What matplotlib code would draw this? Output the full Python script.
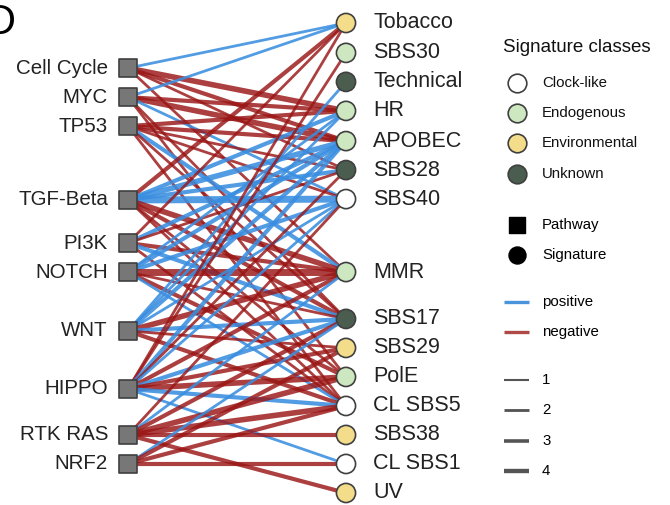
import matplotlib
matplotlib.use("Agg")
import matplotlib.pyplot as plt

plt.rcParams["font.family"] = ["Liberation Sans", "DejaVu Sans"]

# ---- data -------------------------------------------------------------
pathways = ["Cell Cycle", "MYC", "TP53", "TGF-Beta", "PI3K", "NOTCH",
            "WNT", "HIPPO", "RTK RAS", "NRF2"]
signatures = ["Tobacco", "SBS30", "Technical", "HR", "APOBEC", "SBS28",
              "SBS40", "MMR", "SBS17", "SBS29", "PolE", "CL SBS5",
              "SBS38", "CL SBS1", "UV"]
signature_classes = ["Environmental", "Endogenous", "Unknown", "Endogenous",
                     "Endogenous", "Unknown", "Clock-like", "Endogenous",
                     "Unknown", "Environmental", "Endogenous", "Clock-like",
                     "Environmental", "Clock-like", "Environmental"]

# interactions: pathway, signature, signed strength (+ positive / - negative)
edge_pathway = [
    "Cell Cycle", "Cell Cycle", "Cell Cycle", "Cell Cycle", "Cell Cycle",
    "MYC", "MYC", "MYC", "MYC", "MYC", "MYC",
    "TP53", "TP53", "TP53", "TP53", "TP53", "TP53", "TP53",
    "TGF-Beta", "TGF-Beta", "TGF-Beta", "TGF-Beta", "TGF-Beta", "TGF-Beta",
    "TGF-Beta", "TGF-Beta", "TGF-Beta",
    "PI3K", "PI3K", "PI3K", "PI3K", "PI3K", "PI3K",
    "NOTCH", "NOTCH", "NOTCH", "NOTCH", "NOTCH", "NOTCH", "NOTCH",
    "WNT", "WNT", "WNT", "WNT", "WNT", "WNT", "WNT", "WNT",
    "HIPPO", "HIPPO", "HIPPO", "HIPPO", "HIPPO", "HIPPO", "HIPPO", "HIPPO",
    "HIPPO", "HIPPO", "HIPPO",
    "RTK RAS", "RTK RAS", "RTK RAS", "RTK RAS", "RTK RAS", "RTK RAS", "RTK RAS",
    "NRF2", "NRF2", "NRF2", "NRF2",
]
edge_signature = [
    "Tobacco", "HR", "APOBEC", "SBS28", "MMR",
    "Tobacco", "HR", "APOBEC", "SBS40", "SBS17", "PolE",
    "HR", "APOBEC", "SBS28", "SBS40", "MMR", "SBS17", "CL SBS5",
    "Tobacco", "HR", "APOBEC", "SBS28", "SBS40", "MMR", "SBS17", "PolE",
    "CL SBS5",
    "Tobacco", "APOBEC", "SBS28", "MMR", "SBS17", "CL SBS5",
    "HR", "APOBEC", "SBS40", "MMR", "SBS17", "PolE", "CL SBS5",
    "Technical", "HR", "APOBEC", "SBS40", "MMR", "SBS17", "SBS29", "CL SBS5",
    "SBS30", "Tobacco", "APOBEC", "SBS28", "SBS40", "MMR", "SBS17", "SBS29",
    "PolE", "CL SBS5", "CL SBS1",
    "SBS40", "MMR", "SBS17", "PolE", "CL SBS5", "SBS38", "UV",
    "SBS17", "SBS29", "CL SBS5", "CL SBS1",
]
edge_strength = [
    +1, -3, -2, -1, -1,
    +1, -2, -3, +1, -1, -1,
    -2, -2, -1, -1, +2, -1, -1,
    -2, +2, +3, +2, +4, -3, -2, -1, -1,
    -1, +2, -1, -2, +2, -1,
    +1, +2, +2, -4, -1, -2, +1,
    +1, +1, +2, +1, -3, +2, -1, -2,
    -1, -1, +2, -1, +1, -2, +2, -2, -3, +2, +1,
    -1, +1, -2, -3, -3, -2, -2,
    +1, -2, -2, -2,
]

# ---- layout ------------------------------------------------------------
pathway_rows = [1.54, 2.53, 3.52, 6.04, 7.51, 8.5, 10.51, 12.49, 14.06, 15.05]
signature_rows = [0, 1.02, 2.01, 3.0, 4.03, 5.02, 6.01, 8.5, 10.1, 11.09,
                  12.08, 13.07, 14.06, 15.05, 16.04]

class_colors = {"Clock-like": "#ffffff", "Endogenous": "#cde8c1",
                "Environmental": "#f3dd8b", "Unknown": "#4b5d4f"}
pos_color, neg_color = "#3a8ee0", "#9a1616"
node_edge = "#3f3f3f"


def width(strength):
    return 2.0 + 1.0 * (abs(strength) - 1)


fig = plt.figure(figsize=(6.7, 5.05), dpi=100)
ax = fig.add_axes([0, 0, 1, 1])
step = 29.3
span = 218.0
ax.set_xlim(-128 / span, (670 - 128) / span)
ax.set_ylim((505 - 23) / step, -23 / step)
ax.axis("off")

prow = dict(zip(pathways, pathway_rows))
srow = dict(zip(signatures, signature_rows))

for p, s, v in zip(edge_pathway, edge_signature, edge_strength):
    ax.plot([0, 1], [prow[p], srow[s]], color=pos_color if v > 0 else neg_color,
            lw=width(v), alpha=0.82 if v < 0 else 0.88,
            solid_capstyle="butt", zorder=2)

ax.scatter([0] * len(pathways), pathway_rows, marker="s", s=150,
           color="#777777", edgecolor=node_edge, linewidth=1.2, zorder=5)
ax.scatter([1] * len(signatures), signature_rows, marker="o", s=190,
           color=[class_colors[c] for c in signature_classes],
           edgecolor=node_edge, linewidth=1.2, zorder=5)

for name, r in zip(pathways, pathway_rows):
    ax.text(-20 / span, r, name, ha="right", va="center", fontsize=14.8,
            color="#222222")
for name, r in zip(signatures, signature_rows):
    ax.text(1 + 27 / span, r, name, ha="left", va="center", fontsize=15.5,
            color="#222222")

# panel letter
fig.text(-0.022, 0.995, "D", fontsize=30, ha="left", va="top")

# ---- legend ------------------------------------------------------------
lg = fig.add_axes([0, 0, 1, 1], facecolor="none")
lg.set_xlim(0, 670)
lg.set_ylim(505, 0)
lg.axis("off")

lg.text(503, 48, "Signature classes", fontsize=13.5, va="center", ha="left",
        color="#111111")
for cls, y in zip(["Clock-like", "Endogenous", "Environmental", "Unknown"],
                  [83, 113, 143, 174]):
    lg.scatter([517], [y], s=180, color=class_colors[cls],
               edgecolor=node_edge, linewidth=1.2)
    lg.text(542, y, cls, fontsize=10.8, va="center", ha="left", color="#111111")

lg.scatter([517], [225], marker="s", s=120, color="black")
lg.text(542, 225, "Pathway", fontsize=10.8, va="center", ha="left")
lg.scatter([517], [255], marker="o", s=150, color="black")
lg.text(542, 255, "Signature", fontsize=10.8, va="center", ha="left")

for lab, c, y in [("positive", "#4a94dc", 302), ("negative", "#b04848", 332)]:
    lg.plot([504, 529], [y, y], color=c, lw=2.4, solid_capstyle="butt")
    lg.text(542, y, lab, fontsize=10.8, va="center", ha="left")

for k, y in zip([1, 2, 3, 4], [380, 410, 441, 471]):
    lg.plot([504, 529], [y, y], color="#555555", lw=1.5 + 0.55 * (k - 1),
            solid_capstyle="butt")
    lg.text(542, y, str(k), fontsize=10.8, va="center", ha="left")

fig.savefig("out.png", dpi=100)
